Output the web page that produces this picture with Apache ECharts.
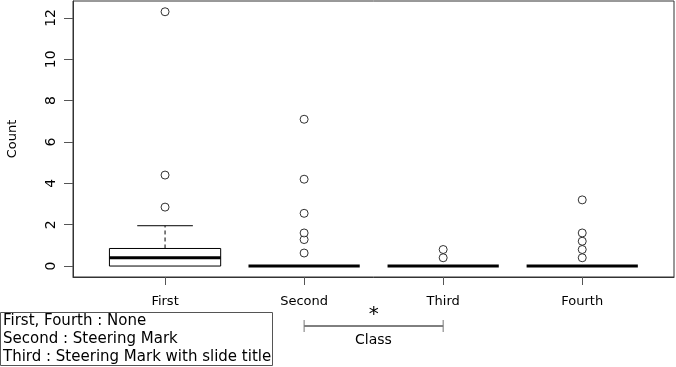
<!DOCTYPE html>
<html>
<head>
<meta charset="utf-8">
<script src="https://cdn.jsdelivr.net/npm/echarts@6/dist/echarts.min.js"></script>
<style>
html, body { margin: 0; padding: 0; background: #fff; }
#main { width: 676px; height: 367px; }
</style>
</head>
<body>
<div id="main"></div>
<script>
// groups along the x axis
var categories = ['First', 'Second', 'Third', 'Fourth'];
// box stats per group: [low whisker, q1, median, q3, high whisker]
var boxStats = [
    [0, 0, 0.4, 0.85, 1.95],
    [0, 0, 0, 0, 0],
    [0, 0, 0, 0, 0],
    [0, 0, 0, 0, 0]
];
// outlier values per group
var outFirst = [2.85, 4.4, 12.3];
var outSecond = [0.63, 1.28, 1.6, 2.55, 4.2, 7.1];
var outThird = [0.4, 0.8];
var outFourth = [0.4, 0.8, 1.2, 1.6, 3.2];
var yTicks = [0, 2, 4, 6, 8, 10, 12];
var legendLines = ['First, Fourth : None', 'Second : Steering Mark', 'Third : Steering Mark with slide title'];

var font = 'DejaVu Sans';
var boxData = boxStats.map(function (s, i) { return [i + 1].concat(s); });
var outliers = [];
[outFirst, outSecond, outThird, outFourth].forEach(function (arr, i) {
    arr.forEach(function (v) { outliers.push([i + 1, v]); });
});

var chart = echarts.init(document.getElementById('main'));

chart.setOption({
    animation: false,
    grid: {
        left: 73, right: 2, top: 1, bottom: 90,
        outerBoundsMode: 'none',
        containLabel: false,
        show: true, borderColor: '#333', borderWidth: 1, backgroundColor: 'transparent'
    },
    xAxis: {
        type: 'value',
        min: 0.338, max: 4.66,
        name: 'Class',
        nameLocation: 'middle',
        nameGap: 56,
        nameTextStyle: { fontFamily: font, fontSize: 14, color: '#000' },
        splitLine: { show: false },
        axisLine: { show: true, onZero: false, lineStyle: { color: '#333' } },
        axisTick: { show: true, inside: false, length: 8, lineStyle: { color: '#555' }, customValues: [1, 2, 3, 4] },
        axisLabel: {
            customValues: [1, 2, 3, 4],
            margin: 18,
            fontFamily: font, fontSize: 13, color: '#000',
            formatter: function (v) { return categories[Math.round(v) - 1] || ''; }
        }
    },
    yAxis: {
        type: 'value',
        min: -0.53, max: 12.82,
        name: 'Count',
        nameLocation: 'middle',
        nameRotate: 90,
        nameGap: 54,
        nameTextStyle: { fontFamily: font, fontSize: 13, color: '#000' },
        splitLine: { show: false },
        axisLine: { show: true, onZero: false, lineStyle: { color: '#333' } },
        axisTick: { show: true, inside: false, length: 9, lineStyle: { color: '#555' }, customValues: yTicks },
        axisLabel: {
            customValues: yTicks,
            rotate: 90,
            margin: 15,
            fontFamily: font, fontSize: 14, color: '#000'
        }
    },
    series: [
        {
            type: 'custom',
            data: boxData,
            renderItem: function (params, api) {
                var x = api.value(0);
                var hw = api.size([0.4, 0])[0];
                var pq1 = api.coord([x, api.value(2)]);
                var pmed = api.coord([x, api.value(3)]);
                var pq3 = api.coord([x, api.value(4)]);
                var phi = api.coord([x, api.value(5)]);
                var cx = pmed[0];
                var kids = [];
                if (api.value(4) > api.value(2)) {
                    kids.push({
                        type: 'rect',
                        shape: { x: cx - hw, y: pq3[1], width: hw * 2, height: pq1[1] - pq3[1] },
                        style: { fill: '#fff', stroke: '#000', lineWidth: 1 }
                    });
                }
                if (api.value(5) > api.value(4)) {
                    kids.push({
                        type: 'line',
                        shape: { x1: cx, y1: pq3[1], x2: cx, y2: phi[1] },
                        style: { stroke: '#000', lineWidth: 1, lineDash: [4, 3] }
                    });
                    kids.push({
                        type: 'line',
                        shape: { x1: cx - hw / 2, y1: phi[1], x2: cx + hw / 2, y2: phi[1] },
                        style: { stroke: '#000', lineWidth: 1 }
                    });
                }
                kids.push({
                    type: 'line',
                    shape: { x1: cx - hw, y1: pmed[1], x2: cx + hw, y2: pmed[1] },
                    style: { stroke: '#000', lineWidth: 3 }
                });
                return { type: 'group', children: kids };
            },
            z: 2
        },
        {
            type: 'scatter',
            data: outliers,
            symbol: 'circle',
            symbolSize: 8,
            itemStyle: { color: '#fff', borderColor: '#000', borderWidth: 1 },
            z: 3
        }
    ]
});

var p2 = chart.convertToPixel({ gridIndex: 0 }, [2, 0]);
var p3 = chart.convertToPixel({ gridIndex: 0 }, [3, 0]);
var by = 326;
chart.setOption({
    graphic: [
        { type: 'line', shape: { x1: p2[0], y1: by, x2: p3[0], y2: by }, style: { stroke: '#000', lineWidth: 1 } },
        { type: 'line', shape: { x1: p2[0], y1: by - 6, x2: p2[0], y2: by + 6 }, style: { stroke: '#777', lineWidth: 1 } },
        { type: 'line', shape: { x1: p3[0], y1: by - 6, x2: p3[0], y2: by + 6 }, style: { stroke: '#777', lineWidth: 1 } },
        {
            type: 'text', x: (p2[0] + p3[0]) / 2, y: 315,
            style: { text: '*', font: '20px ' + font, fill: '#000', align: 'center', verticalAlign: 'middle' }
        },
        {
            type: 'rect', shape: { x: 0.5, y: 312.5, width: 272, height: 53 },
            style: { fill: '#fff', stroke: '#555', lineWidth: 1 }
        },
        {
            type: 'text', x: 3, y: 312,
            style: { text: legendLines.join('\n'), font: '15px ' + font, lineHeight: 18, fill: '#000', verticalAlign: 'top' }
        }
    ]
});
</script>
</body>
</html>
